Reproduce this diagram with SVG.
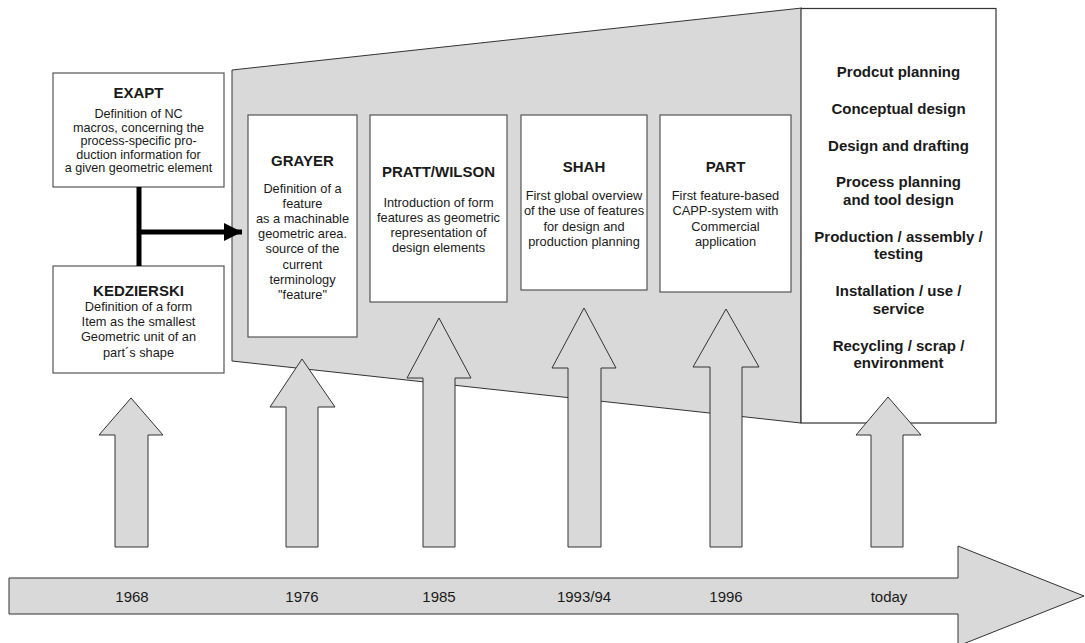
<svg xmlns="http://www.w3.org/2000/svg" width="1085" height="643" viewBox="0 0 1085 643">
<style>
text{font-family:"Liberation Sans",Arial,sans-serif;fill:#1a1a1a;text-anchor:middle}
.t{font-weight:bold;font-size:15px}
.b{font-size:12.8px}
.e{font-size:12.6px}
.r{font-weight:bold;font-size:15px}
.y{font-size:15px}
.box{fill:#fff;stroke:#555;stroke-width:1.2}
.gray{fill:#d9d9d9;stroke:#333;stroke-width:1}
.arr{fill:#d9d9d9;stroke:#333;stroke-width:1}
</style>
<defs>
<marker id="ah" viewBox="0 0 10 10" refX="10" refY="5" markerWidth="3.6" markerHeight="4.4" orient="auto" markerUnits="strokeWidth">
<path d="M0,0 L10,5 L0,10 z" fill="#000"/>
</marker>
</defs>
<rect width="1085" height="643" fill="#fff"/>

<g id="timeline">
<polygon class="arr" points="9,578 958,578 958,546 1084,596 958,646 958,614 9,614"/>
<text class="y" x="132" y="602">1968</text>
<text class="y" x="302" y="602">1976</text>
<text class="y" x="439" y="602">1985</text>
<text class="y" x="584" y="602">1993/94</text>
<text class="y" x="726" y="602">1996</text>
<text class="y" x="889" y="602">today</text>
</g>

<g id="feature-era">
<polygon class="gray" points="232,70 802,8 801,423 232,361"/>
</g>

<g id="exapt">
<rect class="box" x="53" y="73" width="171" height="114"/>
<text class="t" x="138.5" y="98">EXAPT</text>
<text class="e" x="138.5" y="118">Definition of NC</text>
<text class="e" x="138.5" y="131.5">macros, concerning the</text>
<text class="e" x="138.5" y="145">process-specific pro-</text>
<text class="e" x="138.5" y="158.5">duction information for</text>
<text class="e" x="138.5" y="172">a given geometric element</text>
</g>

<g id="kedzierski">
<rect class="box" x="53" y="266" width="171" height="107"/>
<text class="t" x="138.5" y="295.5">KEDZIERSKI</text>
<text class="b" x="138.5" y="310.5">Definition of a form</text>
<text class="b" x="138.5" y="325.5">Item as the smallest</text>
<text class="b" x="138.5" y="341">Geometric unit of an</text>
<text class="b" x="138.5" y="356.5">part´s shape</text>
</g>

<g id="grayer">
<rect class="box" x="248" y="115" width="109" height="222"/>
<text class="t" x="302.5" y="165.5">GRAYER</text>
<text class="b" x="302.5" y="192.5">Definition of a</text>
<text class="b" x="302.5" y="207.7">feature</text>
<text class="b" x="302.5" y="222.9">as a machinable</text>
<text class="b" x="302.5" y="238.1">geometric area.</text>
<text class="b" x="302.5" y="253.3">source of the</text>
<text class="b" x="302.5" y="268.5">current</text>
<text class="b" x="302.5" y="283.7">terminology</text>
<text class="b" x="302.5" y="298.9">"feature"</text>
</g>

<g id="pratt-wilson">
<rect class="box" x="370" y="115" width="137" height="187"/>
<text class="t" x="438.5" y="177">PRATT/WILSON</text>
<text class="b" x="438.5" y="206.5">Introduction of form</text>
<text class="b" x="438.5" y="221.5">features as geometric</text>
<text class="b" x="438.5" y="236.5">representation of</text>
<text class="b" x="438.5" y="251.5">design elements</text>
</g>

<g id="shah">
<rect class="box" x="521" y="115" width="126" height="175"/>
<text class="t" x="584" y="172">SHAH</text>
<text class="b" x="584" y="199.5">First global overview</text>
<text class="b" x="584" y="215">of the use of features</text>
<text class="b" x="584" y="230.5">for design and</text>
<text class="b" x="584" y="245.5">production planning</text>
</g>

<g id="part">
<rect class="box" x="660" y="115" width="131" height="177"/>
<text class="t" x="725.5" y="172">PART</text>
<text class="b" x="725.5" y="199.5">First feature-based</text>
<text class="b" x="725.5" y="215">CAPP-system with</text>
<text class="b" x="725.5" y="230.5">Commercial</text>
<text class="b" x="725.5" y="245.5">application</text>
</g>

<g id="today-phases">
<rect class="box" x="801" y="8.5" width="195" height="414.5" style="stroke:#333"/>
<text class="r" x="898.5" y="76.5">Prodcut planning</text>
<text class="r" x="898.5" y="113.5">Conceptual design</text>
<text class="r" x="898.5" y="150.5">Design and drafting</text>
<text class="r" x="898.5" y="186.5">Process planning</text>
<text class="r" x="898.5" y="204.5">and tool design</text>
<text class="r" x="898.5" y="241.5">Production / assembly /</text>
<text class="r" x="898.5" y="258.5">testing</text>
<text class="r" x="898.5" y="295.5">Installation / use /</text>
<text class="r" x="898.5" y="313.5">service</text>
<text class="r" x="898.5" y="350.5">Recycling / scrap /</text>
<text class="r" x="898.5" y="367.5">environment</text>
</g>

<g id="year-arrows">
<polygon class="arr" points="131,398 163,435 148,435 148,547 115,547 115,435 99,435"/>
<polygon class="arr" points="302,359 335,407 318,407 318,547 286,547 286,407 270,407"/>
<polygon class="arr" points="439,318 471,378 455,378 455,547 423,547 423,378 407,378"/>
<polygon class="arr" points="584,308 616,368 601,368 601,547 568,547 568,368 552,368"/>
<polygon class="arr" points="726,309 759,367 742,367 742,547 710,547 710,367 693,367"/>
<polygon class="arr" points="888,397 921,435 903,435 903,547 871,547 871,435 856,435"/>
</g>

<g id="connectors">
<line x1="139" y1="187" x2="139" y2="266" stroke="#000" stroke-width="5"/>
<line x1="139" y1="232" x2="242" y2="232" stroke="#000" stroke-width="5" marker-end="url(#ah)"/>
</g>
</svg>
